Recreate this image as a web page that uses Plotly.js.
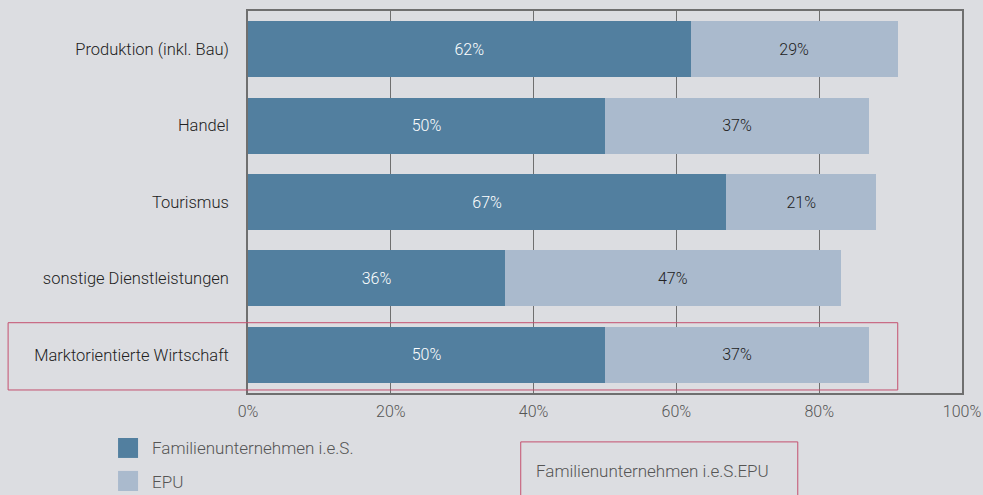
<!DOCTYPE html>
<html>
<head>
<meta charset="utf-8">
<script src="https://cdn.plot.ly/plotly-3.0.1.min.js"></script>
<style>html,body{margin:0;padding:0;background:#dcdde1;}#chart{width:983px;height:495px;}</style>
</head>
<body>
<div id="chart"></div>
<script>
const categories = ["Produktion (inkl. Bau)", "Handel", "Tourismus", "sonstige Dienstleistungen", "Marktorientierte Wirtschaft"];
const familienValues = [62, 50, 67, 36, 50];
const epuValues = [29, 37, 21, 47, 37];
const seriesNames = ["Familienunternehmen i.e.S.", "EPU"];
const xTickValues = [0, 20, 40, 60, 80, 100];
const xTickLabels = ["0%", "20%", "40%", "60%", "80%", "100%"];

const darkColor = "#527f9f";
const lightColor = "#aabacd";
const boxColor = "#c4506f";
const fontFam = "Roboto, 'Open Sans', sans-serif";
const W = 300;

const traces = [
  {
    type: "bar", orientation: "h", name: seriesNames[0],
    y: categories, x: familienValues,
    marker: {color: darkColor},
    texttemplate: "%{x}%", textposition: "inside", insidetextanchor: "middle",
    textfont: {color: "#ffffff", size: 16, family: fontFam, weight: W},
    hoverinfo: "x+y", showlegend: false
  },
  {
    type: "bar", orientation: "h", name: seriesNames[1],
    y: categories, x: epuValues,
    marker: {color: lightColor},
    texttemplate: "%{x}%", textposition: "inside", insidetextanchor: "middle",
    textfont: {color: "#222222", size: 16, family: fontFam, weight: W},
    hoverinfo: "x+y", showlegend: false
  }
];

const layout = {
  width: 983, height: 495,
  paper_bgcolor: "#dcdde1", plot_bgcolor: "#dcdde1",
  margin: {l: 248, r: 21, t: 11, b: 102, pad: 0},
  barmode: "stack", bargap: 0.267,
  font: {family: fontFam, size: 16, color: "#222", weight: W},
  showlegend: false,
  xaxis: {
    range: [0, 100], tickvals: xTickValues, ticktext: xTickLabels,
    showgrid: true, gridcolor: "#6f6f6f", gridwidth: 1,
    showline: true, linecolor: "#6f6f6f", linewidth: 1.5, mirror: true,
    zeroline: false, ticks: "", ticklabelstandoff: 3,
    tickfont: {size: 16, color: "#555", family: fontFam, weight: W},
    fixedrange: true
  },
  yaxis: {
    autorange: "reversed", showgrid: false, zeroline: false,
    showline: true, linecolor: "#6f6f6f", linewidth: 1.5, mirror: true,
    ticks: "", ticklabelstandoff: 14,
    tickfont: {size: 16.5, color: "#222", family: fontFam, weight: W},
    fixedrange: true
  },
  shapes: [
    {type: "rect", xref: "paper", yref: "paper", x0: -0.336, x1: 0.910, y0: 0.0079, y1: 0.184,
     line: {color: boxColor, width: 1}, fillcolor: "rgba(0,0,0,0)"},
    {type: "rect", xref: "paper", yref: "paper", x0: 0.382, x1: 0.770, y0: -0.128, y1: -0.32,
     line: {color: boxColor, width: 1}, fillcolor: "rgba(0,0,0,0)"},
    {type: "rect", xref: "paper", yref: "paper", x0: -0.182, x1: -0.154, y0: -0.1178, y1: -0.170,
     line: {width: 0}, fillcolor: darkColor},
    {type: "rect", xref: "paper", yref: "paper", x0: -0.182, x1: -0.154, y0: -0.204, y1: -0.2565,
     line: {width: 0}, fillcolor: lightColor}
  ],
  annotations: [
    {xref: "paper", yref: "paper", x: -0.137, y: -0.144, xanchor: "left", yanchor: "middle",
     text: seriesNames[0], showarrow: false, font: {size: 17, color: "#555", family: fontFam, weight: W}},
    {xref: "paper", yref: "paper", x: -0.137, y: -0.233, xanchor: "left", yanchor: "middle",
     text: seriesNames[1], showarrow: false, font: {size: 17, color: "#555", family: fontFam, weight: W}},
    {xref: "paper", yref: "paper", x: 0.4006, y: -0.204, xanchor: "left", yanchor: "middle",
     text: seriesNames[0] + seriesNames[1], showarrow: false, font: {size: 17, color: "#555", family: fontFam, weight: W}}
  ]
};

Plotly.newPlot("chart", traces, layout, {displayModeBar: false});
</script>
</body>
</html>
